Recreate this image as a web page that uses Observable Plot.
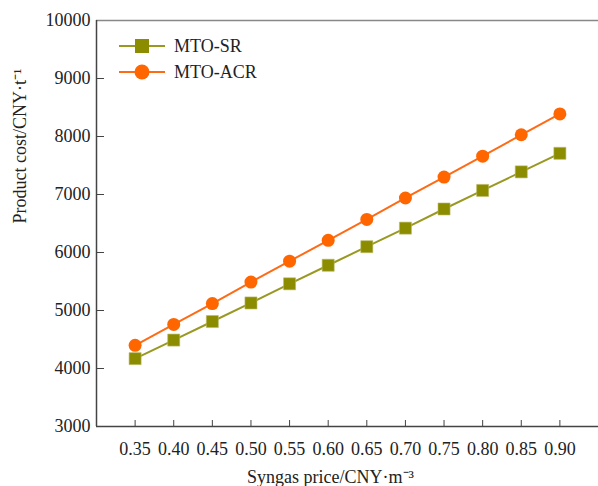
<!DOCTYPE html>
<html>
<head>
<meta charset="utf-8">
<script src="https://cdn.jsdelivr.net/npm/d3@7"></script>
<script src="https://cdn.jsdelivr.net/npm/@observablehq/plot@0.6"></script>
<style>
  html, body { margin: 0; padding: 0; background: #fff; }
  #wrap { position: relative; width: 598px; height: 486px; font-family: "Liberation Serif", "DejaVu Serif", serif; }
  #legend { position: absolute; left: 119px; top: 33px; font-size: 18px; color: #222; }
  #legend div { display: flex; align-items: center; height: 26px; }
  #legend svg { margin-right: 7px; }
</style>
</head>
<body>
<div id="wrap">
  <div id="legend"></div>
</div>
<script>
const prices = [0.35, 0.40, 0.45, 0.50, 0.55, 0.60, 0.65, 0.70, 0.75, 0.80, 0.85, 0.90];
const mtoSR  = [4170, 4490, 4810, 5130, 5460, 5780, 6100, 6420, 6750, 7070, 7390, 7710];
const mtoACR = [4400, 4760, 5120, 5490, 5850, 6210, 6570, 6940, 7300, 7660, 8030, 8390];
const seriesNames = ["MTO-SR", "MTO-ACR"];
const seriesColors = {"MTO-SR": "#8c8c00", "MTO-ACR": "#ff6600"};
const lineColors = {"MTO-SR": "#999922", "MTO-ACR": "#ff6a14"};
const yTicks = [3000, 4000, 5000, 6000, 7000, 8000, 9000, 10000];

const data = [];
prices.forEach((p, i) => {
  data.push({price: p, cost: mtoSR[i], series: "MTO-SR"});
  data.push({price: p, cost: mtoACR[i], series: "MTO-ACR"});
});

const chart = Plot.plot({
  width: 598,
  height: 486,
  marginLeft: 96,
  marginRight: 0,
  marginTop: 20,
  marginBottom: 60,
  style: {fontFamily: "Liberation Serif, serif", fontSize: "18px", color: "#222", background: "#fff"},
  x: {domain: [0.30, 0.95]},
  y: {domain: [3000, 10000]},
  marks: [
    Plot.ruleY([10000], {stroke: "#888", strokeWidth: 1.5}),
    Plot.ruleY([3000], {stroke: "#444", strokeWidth: 1.5}),
    Plot.ruleX([0.30], {stroke: "#444", strokeWidth: 1.5}),
    Plot.tickX(prices, {x: d => d, insetTop: 400, stroke: "#444", strokeWidth: 1}),
    Plot.tickY(yTicks.slice(1, -1), {y: d => d, insetRight: 494, stroke: "#444", strokeWidth: 1}),
    Plot.axisX({ticks: prices, tickFormat: d3.format(".2f"), tickSize: 0, tickPadding: 16, fontSize: 18, label: null}),
    Plot.axisY({ticks: yTicks, tickFormat: d3.format("d"), tickSize: 0, tickPadding: 6, fontSize: 18, label: null}),
    Plot.line(data, {x: "price", y: "cost", z: "series", stroke: d => lineColors[d.series], strokeWidth: 2}),
    Plot.dot(data.filter(d => d.series === "MTO-SR"), {x: "price", y: "cost", symbol: "square", r: 6.8, fill: seriesColors["MTO-SR"], stroke: "#bcbc6a", strokeWidth: 0.6}),
    Plot.dot(data.filter(d => d.series === "MTO-ACR"), {x: "price", y: "cost", symbol: "circle", r: 6.5, fill: seriesColors["MTO-ACR"]}),
    Plot.text(["Syngas price/CNY·m⁻³"], {frameAnchor: "bottom", dx: -17, dy: 56, fontSize: 18}),
    Plot.text(["Product cost/CNY·t⁻¹"], {frameAnchor: "left", dx: -76, rotate: -90, fontSize: 18})
  ]
});
document.getElementById("wrap").appendChild(chart);

const legend = document.getElementById("legend");
seriesNames.forEach(name => {
  const row = document.createElement("div");
  const shape = name === "MTO-SR"
    ? `<rect x="16" y="5" width="14" height="14" fill="${seriesColors[name]}"/>`
    : `<circle cx="23" cy="12" r="7.5" fill="${seriesColors[name]}"/>`;
  row.innerHTML = `<svg width="48" height="24"><line x1="0" x2="46" y1="12" y2="12" stroke="${lineColors[name]}" stroke-width="2"/>${shape}</svg><span>${name}</span>`;
  legend.appendChild(row);
});
</script>
</body>
</html>
